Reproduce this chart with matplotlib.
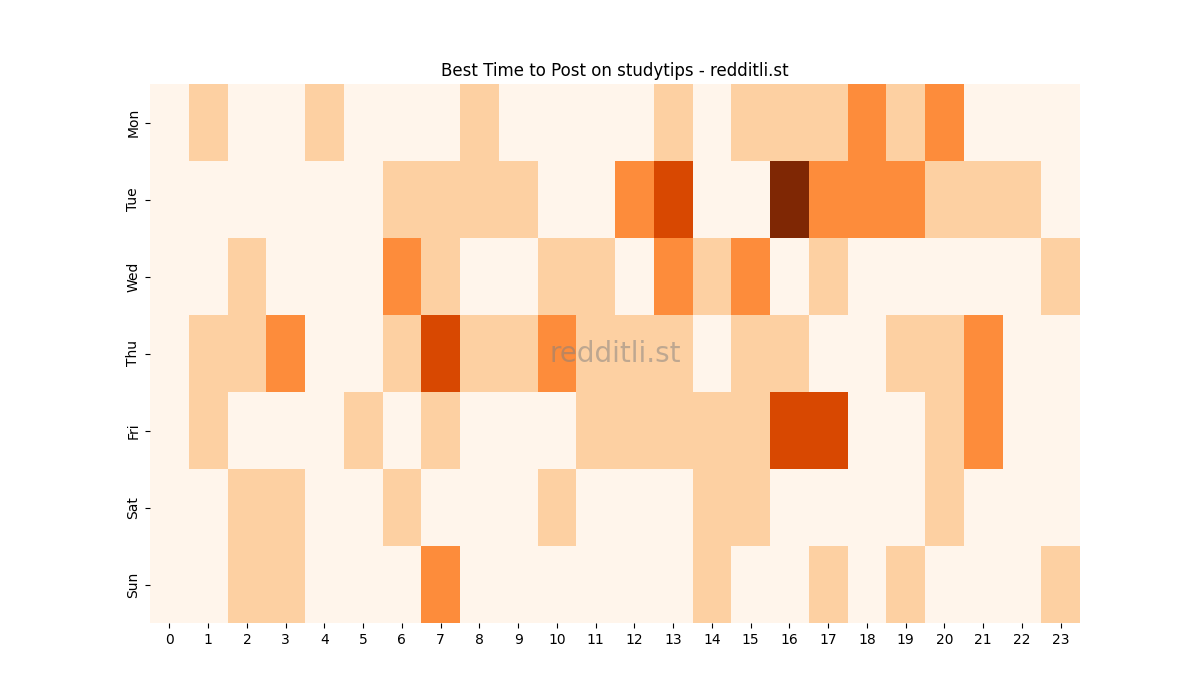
import matplotlib
matplotlib.use("Agg")
import matplotlib.pyplot as plt
import seaborn as sns
import numpy as np

days = ["Mon", "Tue", "Wed", "Thu", "Fri", "Sat", "Sun"]
hours = list(range(24))

mon = [0,1,0,0,1,0,0,0,1,0,0,0,0,1,0,1,1,1,2,1,2,0,0,0]
tue = [0,0,0,0,0,0,1,1,1,1,0,0,2,3,0,0,4,2,2,2,1,1,1,0]
wed = [0,0,1,0,0,0,2,1,0,0,1,1,0,2,1,2,0,1,0,0,0,0,0,1]
thu = [0,1,1,2,0,0,1,3,1,1,2,1,1,1,0,1,1,0,0,1,1,2,0,0]
fri = [0,1,0,0,0,1,0,1,0,0,0,1,1,1,1,1,3,3,0,0,1,2,0,0]
sat = [0,0,1,1,0,0,1,0,0,0,1,0,0,0,1,1,0,0,0,0,1,0,0,0]
sun = [0,0,1,1,0,0,0,2,0,0,0,0,0,0,1,0,0,1,0,1,0,0,0,1]

data = np.array([mon, tue, wed, thu, fri, sat, sun])

fig = plt.figure(figsize=(12, 7), dpi=100)
ax = fig.add_subplot(111)
sns.heatmap(data, cmap="Oranges", vmin=0, vmax=4, cbar=False,
            xticklabels=hours, yticklabels=days, ax=ax)
ax.set_title("Best Time to Post on studytips - redditli.st")
ax.tick_params(axis="y", rotation=90)
ax.tick_params(axis="x", rotation=0)
ax.text(0.5, 0.5, "redditli.st", transform=ax.transAxes, fontsize=20,
        color="gray", alpha=0.5, ha="center", va="center")
fig.savefig("out.png", dpi=100)
